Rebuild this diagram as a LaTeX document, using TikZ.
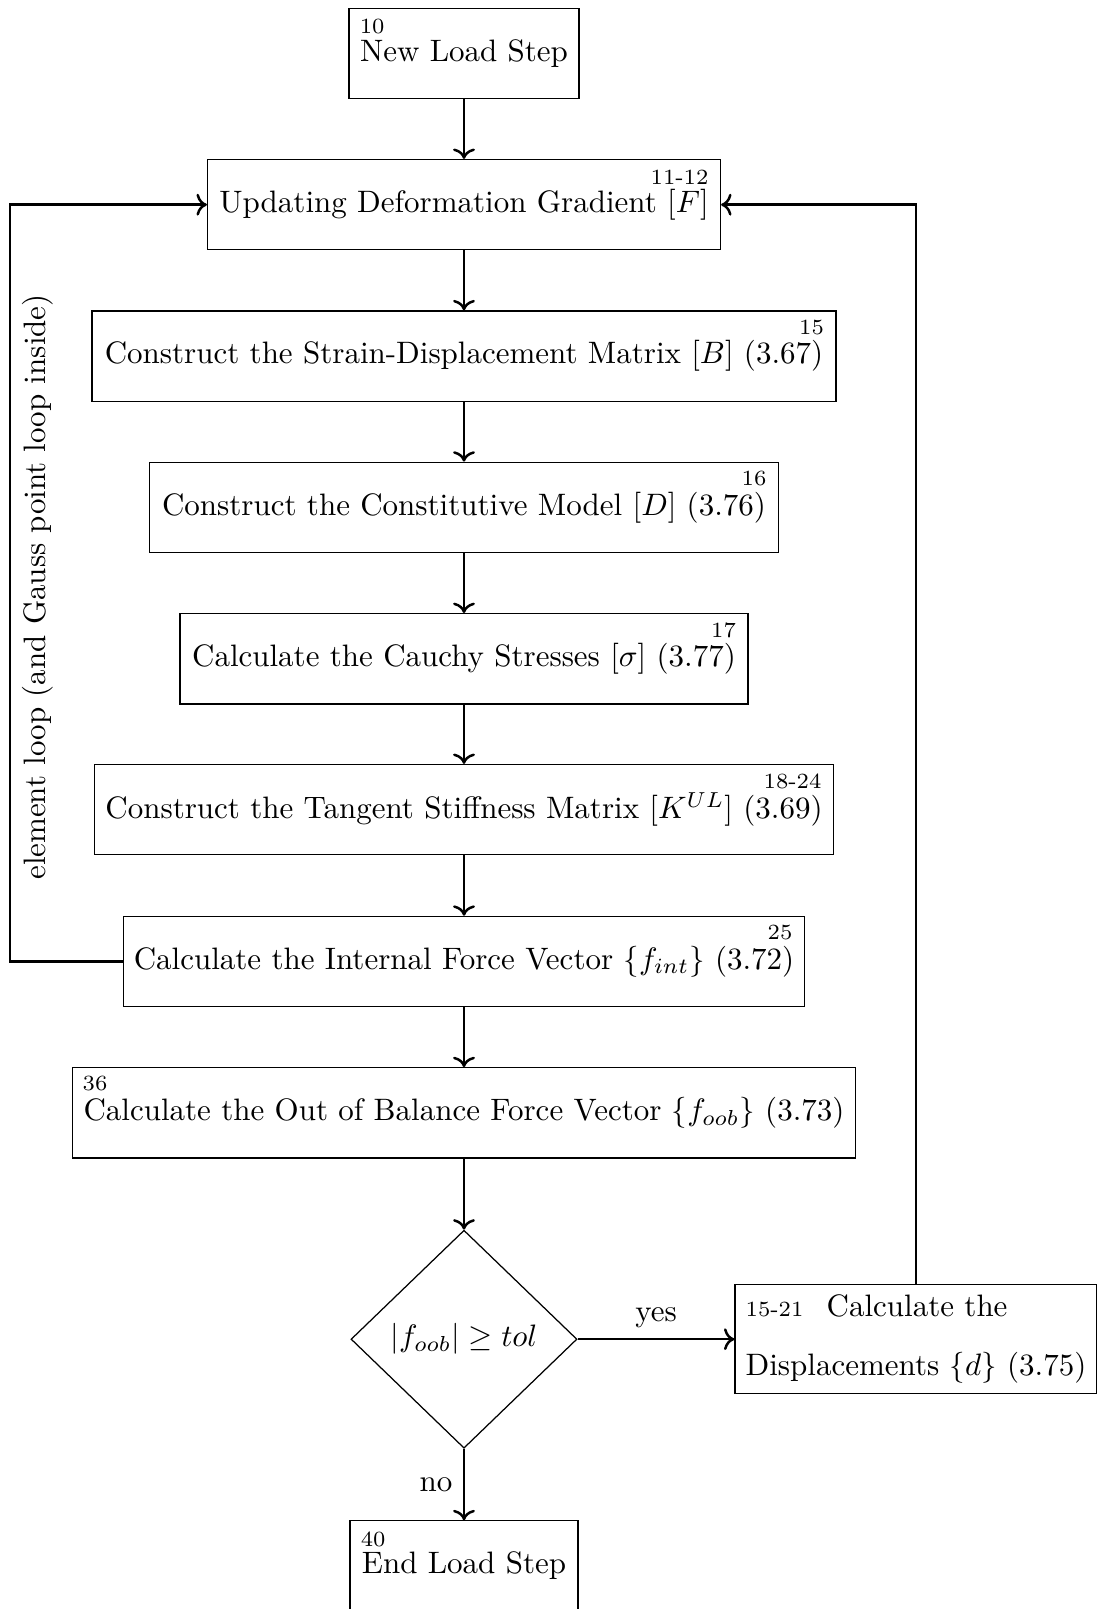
\documentclass[tikz,border=0pt]{standalone}
\usetikzlibrary{shapes.geometric,arrows.meta}
\begin{document}
\begin{tikzpicture}[x=0.32258pt,y=-0.32258pt,
  box/.style={draw, line width=0.4pt, minimum height=29.13pt, inner xsep=3pt, inner ysep=0pt},
  bw/.style={minimum width=#1*0.32258pt},
  tag/.style={font=\scriptsize, inner sep=0pt},
  arr/.style={thick, ->},
]
\useasboundingbox (0,0) rectangle (1097,1609);

\node[box,bw=230] (new) at (464,53.4) {New Load Step};
\node[box,bw=513] (upd) at (464,204.7) {Updating Deformation Gradient $[F]$};
\node[box,bw=744] (str) at (464,356.1) {Construct the Strain-Displacement Matrix $[B]$ (3.67)};
\node[box,bw=629] (con) at (464,507.4) {Construct the Constitutive Model $[D]$ (3.76)};
\node[box,bw=568] (cau) at (464,658.8) {Calculate the Cauchy Stresses $[\sigma]$ (3.77)};
\node[box,bw=739] (tan) at (464,809.7) {Construct the Tangent Stiffness Matrix $[K^{UL}]$ (3.69)};
\node[box,bw=681] (int) at (464,961.5) {Calculate the Internal Force Vector $\{f_{int}\}$ (3.72)};
\node[box,bw=783] (oob) at (464,1112.9) {Calculate the Out of Balance Force Vector $\{f_{oob}\}$ (3.73)};
\node[draw, line width=0.4pt, diamond, minimum width=226*0.32258pt, minimum height=218*0.32258pt, inner sep=0pt] (dec) at (464,1339.2) {$|f_{oob}| \geq tol$};
\node[box, bw=362, minimum height=109*0.32258pt, align=left] (dis) at (916,1339.2) {{\scriptsize 15-21}\hspace{7.5pt}Calculate the\\[7pt] Displacements $\{d\}$ (3.75)};
\node[box,bw=228] (end) at (464,1566) {End Load Step};

\node[tag, anchor=north west] (t10) at ([xshift=3.5pt,yshift=-3.6pt]new.north west) {10};
\node[tag, anchor=north east] (t11) at ([xshift=-3.9pt,yshift=-3.4pt]upd.north east) {11-12};
\node[tag, anchor=north east] (t15) at ([xshift=-3.9pt,yshift=-2.9pt]str.north east) {15};
\node[tag, anchor=north east] (t16) at ([xshift=-3.9pt,yshift=-2.9pt]con.north east) {16};
\node[tag, anchor=north east] (t17) at ([xshift=-3.9pt,yshift=-2.9pt]cau.north east) {17};
\node[tag, anchor=north east] (t18) at ([xshift=-3.9pt,yshift=-2.9pt]tan.north east) {18-24};
\node[tag, anchor=north east] (t25) at ([xshift=-3.9pt,yshift=-2.9pt]int.north east) {25};
\node[tag, anchor=north west] (t36) at ([xshift=3.3pt,yshift=-2.8pt]oob.north west) {36};
\node[tag, anchor=north west] (t40) at ([xshift=3.5pt,yshift=-3.4pt]end.north west) {40};

\node[rotate=90] (lbl) at (38,587) {element loop (and Gauss point loop inside)};

\draw[arr] (new) -- (upd);
\draw[arr] (upd) -- (str);
\draw[arr] (str) -- (con);
\draw[arr] (con) -- (cau);
\draw[arr] (cau) -- (tan);
\draw[arr] (tan) -- (int);
\draw[arr] (int) -- (oob);
\draw[arr] (oob) -- (dec);
\draw[arr] (dec) -- node[above] (yes) {yes} (dis);
\draw[arr] (dec) -- node[left] (no) {no} (end);
\coordinate (lc) at (10,204.7);
\draw[arr] (int.west) -| (lc) -- (upd.west);
\draw[arr] (dis.north) |- (upd.east);
\end{tikzpicture}
\end{document}
